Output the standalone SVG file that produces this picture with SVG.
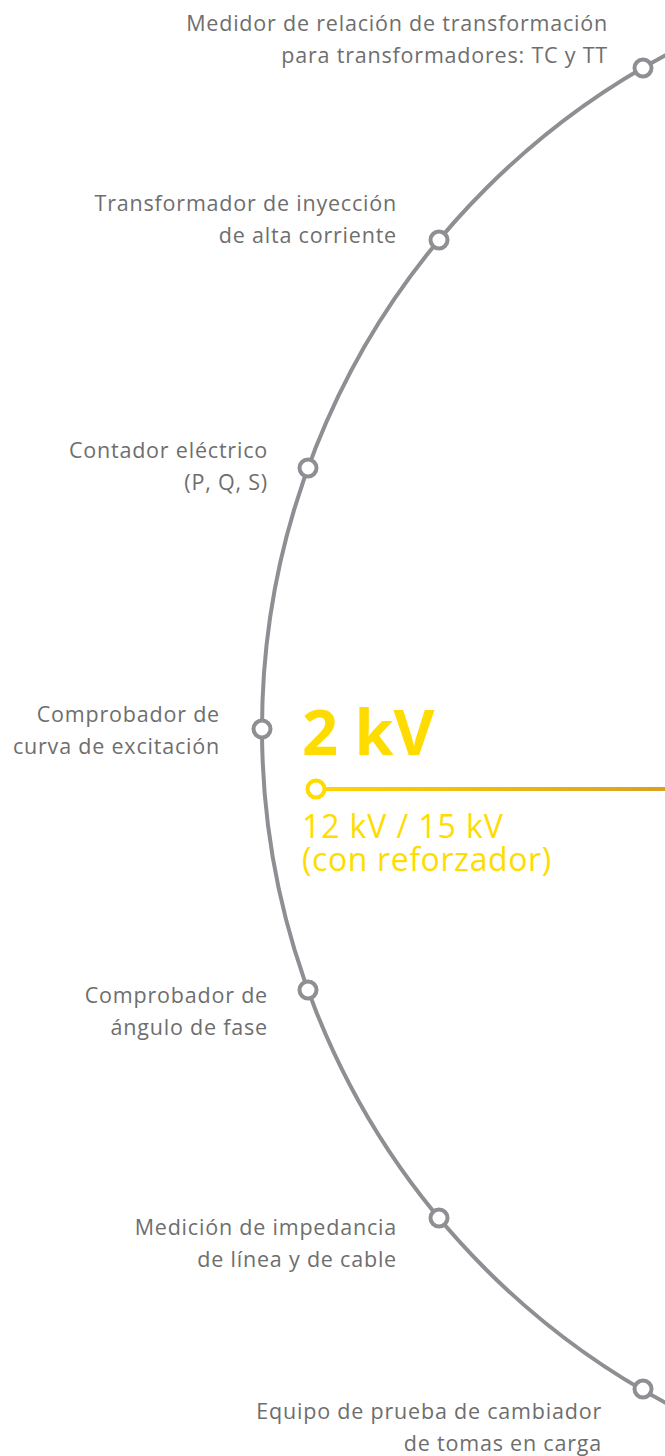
<svg xmlns="http://www.w3.org/2000/svg" width="665" height="1456" viewBox="0 0 665 1456">
<style>
.lbl{font-family:"Open Sans","Noto Sans",sans-serif;font-size:21.5px;letter-spacing:0.8px;fill:#6e6e6e;text-anchor:end}
.node{fill:#fff;stroke:#8e8e93;stroke-width:4}
.yel{fill:#ffdc00;font-family:"Open Sans","Noto Sans",sans-serif}
</style>
<defs>
<linearGradient id="g" x1="324" y1="0" x2="665" y2="0" gradientUnits="userSpaceOnUse">
<stop offset="0" stop-color="#ffd400"/>
<stop offset="1" stop-color="#dba020"/>
</linearGradient>
</defs>
<rect width="665" height="1456" fill="#fff"/>
<g id="connectors">
<circle cx="1026" cy="729" r="764" fill="none" stroke="#8e8e93" stroke-width="4"/>
<line x1="325" y1="789" x2="665" y2="789" stroke="url(#g)" stroke-width="4"/>
</g>
<g id="n1"><circle class="node" cx="643" cy="68" r="8.5"/><text class="lbl" x="608" y="31">Medidor de relación de transformación</text><text class="lbl" x="608" y="63">para transformadores: TC y TT</text></g>
<g id="n2"><circle class="node" cx="439" cy="240" r="8.5"/><text class="lbl" x="397" y="211">Transformador de inyección</text><text class="lbl" x="397" y="243">de alta corriente</text></g>
<g id="n3"><circle class="node" cx="308" cy="468" r="8.5"/><text class="lbl" x="268" y="458">Contador eléctrico</text><text class="lbl" x="268" y="490">(P, Q, S)</text></g>
<g id="n4"><circle class="node" cx="262" cy="729" r="8.5"/><text class="lbl" x="220" y="722">Comprobador de</text><text class="lbl" x="220" y="754">curva de excitación</text></g>
<g id="n5"><circle class="node" cx="308" cy="990" r="8.5"/><text class="lbl" x="268" y="1003">Comprobador de</text><text class="lbl" x="268" y="1035">ángulo de fase</text></g>
<g id="n6"><circle class="node" cx="439" cy="1218" r="8.5"/><text class="lbl" x="397" y="1235">Medición de impedancia</text><text class="lbl" x="397" y="1267">de línea y de cable</text></g>
<g id="n7"><circle class="node" cx="643" cy="1389" r="8.5"/><text class="lbl" x="602" y="1419">Equipo de prueba de cambiador</text><text class="lbl" x="602" y="1451">de tomas en carga</text></g>
<g id="highlight">
<circle cx="316" cy="789" r="8.5" fill="#fff" stroke="#ffdc00" stroke-width="4"/>
<text class="yel" x="302" y="755" font-size="63" font-weight="bold">2 kV</text>
<text class="yel" x="302" y="838" font-size="32" letter-spacing="0.9">12 kV / 15 kV</text>
<text class="yel" x="302" y="871" font-size="32" letter-spacing="0.6">(con reforzador)</text>
</g>
</svg>
